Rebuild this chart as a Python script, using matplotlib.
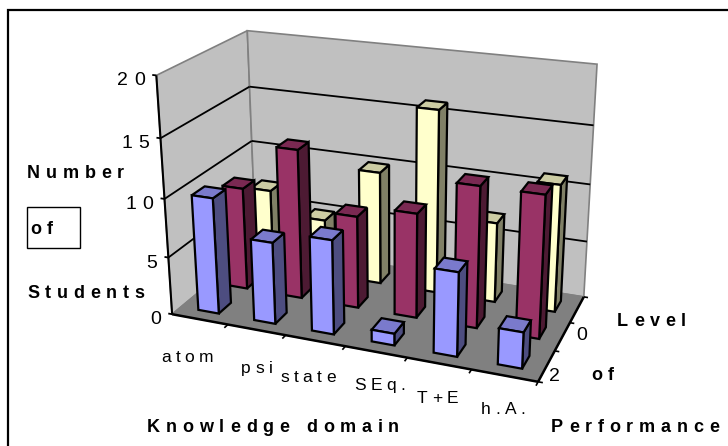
import numpy as np
import matplotlib
matplotlib.use("Agg")
import matplotlib.pyplot as plt
from matplotlib.patches import Polygon, Rectangle
from matplotlib.text import Text
from matplotlib.transforms import IdentityTransform

categories = ["atom", "psi", "state", "SEq.", "T+E", "h.A."]
levels = ["0", "1", "2"]
level2 = [10, 7, 8, 1, 7, 3]      # front row, blue
level1 = [9, 13, 8, 9, 12, 12]    # middle row, maroon
level0 = [7, 5, 10, 16, 7, 11]    # back row, yellow
z_ticks = [0, 5, 10, 15, 20]

W, H = 728, 446
plt.rcParams["font.family"] = ["Liberation Sans", "DejaVu Sans"]
fig = plt.figure(figsize=(W / 100, H / 100), dpi=100)
ax = fig.add_axes([0, 0, 1, 1])
ax.set_xlim(0, W)
ax.set_ylim(H, 0)
ax.axis("off")

# perspective camera fitted to the picture's box corners: (category, depth, value) -> pixel
anchors = [((0, 0, 0), (172, 318)), ((6, 0, 0), (537, 380)), ((6, 3, 0), (585, 298)),
           ((0, 3, 0), (256, 240)), ((0, 0, 20), (157, 73)), ((0, 3, 20), (247, 32)),
           ((6, 3, 20), (597, 63)), ((0, 0, 10), (165, 199)), ((0, 3, 10), (251, 143)),
           ((6, 3, 10), (590, 186))]
A, b = [], []
for (X, Y, Z), (u, v) in anchors:
    A.append([X, Y, Z, 1, 0, 0, 0, 0, -u * X, -u * Y, -u * Z]); b.append(u)
    A.append([0, 0, 0, 0, X, Y, Z, 1, -v * X, -v * Y, -v * Z]); b.append(v)
p = np.linalg.lstsq(np.array(A, float), np.array(b, float), rcond=None)[0]
P = np.append(p, 1.0).reshape(3, 4)


def pr(x, y, z):
    q = P @ np.array([x, y, z, 1.0])
    return q[0] / q[2], q[1] / q[2]


def poly(pts, fc, ec="black", lw=1.6, z=1):
    ax.add_patch(Polygon([pr(*t) for t in pts], closed=True, facecolor=fc, edgecolor=ec,
                         linewidth=lw, joinstyle="miter", zorder=z))


def line(a, b, color="black", lw=1.3, z=2):
    (x0, y0), (x1, y1) = pr(*a), pr(*b)
    ax.plot([x0, x1], [y0, y1], color=color, lw=lw, solid_capstyle="butt", zorder=z)


class TrackedText(Text):
    """Real text, drawn with extra space between its letters on one baseline."""
    tracking = 0.0

    def draw(self, renderer):
        s = self.get_text()
        x, y = self.get_transform().transform(self.get_position())
        fp = self.get_fontproperties()
        px = fp.get_size_in_points() * 100 / 72
        adv = [renderer.get_text_width_height_descent(c, fp, False)[0] if c != " "
               else px * 0.28 for c in s]
        total = sum(adv) + self.tracking * (len(s) - 1)
        ha = self.get_ha()
        cx = x - (total if ha == "right" else total / 2 if ha == "center" else 0)
        base = y - 0.36 * px
        for c, w in zip(s, adv):
            if c != " ":
                Text(cx, base, c, fontproperties=fp, color=self.get_color(), va="baseline",
                     ha="left", transform=IdentityTransform(),
                     figure=self.get_figure()).draw(renderer)
            cx += w + self.tracking


def label(x, y, s, size=12, bold=False, tracking=2.0, ha="left"):
    t = TrackedText(x, y, s, fontsize=size, fontweight="bold" if bold else "normal",
                    va="center", ha=ha, color="black", transform=ax.transData, clip_on=False)
    t.tracking = tracking
    ax.add_artist(t)


# chart frame: only the top and left edges show in the picture
ax.plot([8, 8, W], [H, 10, 10], color="black", lw=1.6, solid_joinstyle="miter", zorder=0)

# walls and floor
WALL, FLOOR, EDGE = "#c0c0c0", "#808080", "#808080"
poly([(0, 0, 0), (0, 3, 0), (0, 3, 20), (0, 0, 20)], WALL, EDGE, 1.2)
poly([(0, 3, 0), (6, 3, 0), (6, 3, 20), (0, 3, 20)], WALL, EDGE, 1.2)
poly([(0, 0, 0), (6, 0, 0), (6, 3, 0), (0, 3, 0)], FLOOR, EDGE, 1.0)
for v in z_ticks[1:-1]:
    line((0, 0, v), (0, 3, v))
    line((0, 3, v), (6, 3, v))

# axes lines and ticks
line((0, 0, 0), (0, 0, 20), lw=1.5, z=3)
line((0, 0, 0), (6, 0, 0), lw=1.8, z=3)
line((6, 0, 0), (6, 3, 0), lw=1.8, z=3)
for v in z_ticks:
    line((-0.07, 0, v), (0, 0, v), lw=1.3, z=3)
    xx, yy = pr(0, 0, v)
    label(xx - 11, yy + 3, str(v), size=14, tracking=6.5, ha="right")
for c in range(1, 7):
    line((c, 0, 0), (c, -0.12, 0), lw=1.2, z=3)
for d in range(0, 4):
    line((6, d, 0), (6.07, d, 0), lw=1.2, z=3)

# bars, back row first
width, depth = 0.37, 0.42
rows = [(2.5, level0, "#ffffcc", "#808066", "#cccca3"),
        (1.5, level1, "#993366", "#4d1a33", "#7a2952"),
        (0.5, level2, "#9999ff", "#4d4d80", "#7a7acc")]
for yc, vals, front, side, top in rows:
    for i, v in enumerate(vals):
        x0, x1 = i + 0.5 - width / 2, i + 0.5 + width / 2
        y0, y1 = yc - depth / 2, yc + depth / 2
        poly([(x1, y0, 0), (x1, y1, 0), (x1, y1, v), (x1, y0, v)], side, z=4)
        poly([(x0, y0, v), (x1, y0, v), (x1, y1, v), (x0, y1, v)], top, z=4)
        poly([(x0, y0, 0), (x1, y0, 0), (x1, y0, v), (x0, y0, v)], front, z=4)

# category and depth labels
label_xy = [(161, 356), (241, 367), (280, 376), (354, 384), (417, 397), (481, 408)]
for (x, y), s in zip(label_xy, categories):
    label(x, y, s, size=12.5, tracking=4.5)
label(576, 333, levels[0], size=14, tracking=0)
label(549, 374, levels[2], size=14, tracking=0)

# axis titles
BOLD = dict(size=13, bold=True, tracking=5.8)
label(27, 171, "Number", **BOLD)
ax.add_patch(Rectangle((26.5, 206.5), 53.5, 41.5, fill=False, edgecolor="black", lw=1.0, zorder=2))
label(30, 228, "of", **BOLD)
label(27, 291, "Students", **BOLD)
label(147, 425, "Knowledge domain", **BOLD)
label(617, 319, "Level", **BOLD)
label(591, 374, "of", **BOLD)
label(551, 425, "Performance", **BOLD)

fig.savefig("out.png", dpi=100)
